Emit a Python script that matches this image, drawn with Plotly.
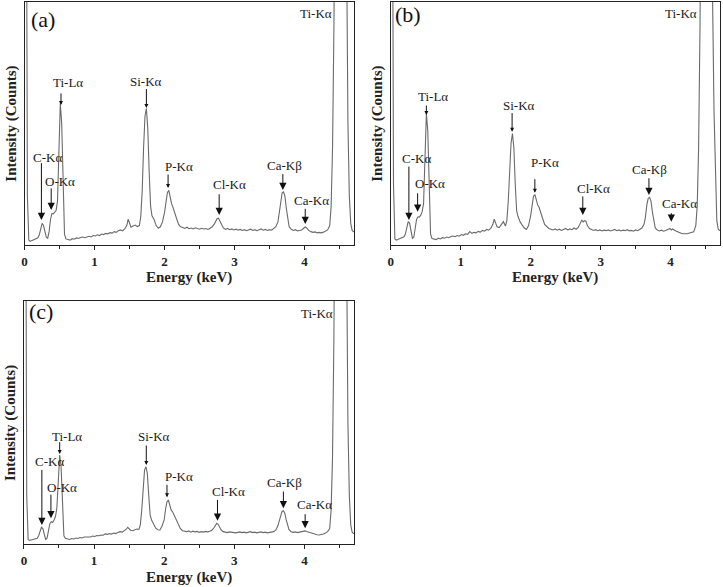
import plotly.graph_objects as go

# ---------------- data ----------------
energy = [
    0.00, 0.02, 0.04, 0.06, 0.08, 0.10, 0.13, 0.16, 0.19, 0.21,
    0.23, 0.25, 0.27, 0.29, 0.31, 0.33, 0.35, 0.37, 0.39, 0.41,
    0.43, 0.45, 0.47, 0.49, 0.51, 0.53, 0.55, 0.57, 0.59, 0.62,
    0.65, 0.68, 0.71, 0.74, 0.77, 0.80, 0.83, 0.86, 0.89, 0.92,
    0.95, 0.98, 1.01, 1.04, 1.07, 1.10, 1.13, 1.16, 1.19, 1.22,
    1.25, 1.28, 1.31, 1.34, 1.37, 1.40, 1.43, 1.46, 1.48, 1.50,
    1.52, 1.55, 1.58, 1.61, 1.64, 1.66, 1.68, 1.70, 1.72, 1.74,
    1.76, 1.78, 1.80, 1.82, 1.85, 1.88, 1.91, 1.94, 1.97, 2.00,
    2.02, 2.04, 2.06, 2.08, 2.10, 2.12, 2.14, 2.17, 2.20, 2.23,
    2.26, 2.29, 2.32, 2.35, 2.38, 2.41, 2.44, 2.47, 2.50, 2.53,
    2.56, 2.59, 2.62, 2.65, 2.68, 2.71, 2.73, 2.75, 2.77, 2.79,
    2.81, 2.84, 2.87, 2.90, 2.93, 2.96, 2.99, 3.02, 3.05, 3.08,
    3.11, 3.14, 3.17, 3.20, 3.23, 3.26, 3.29, 3.32, 3.35, 3.38,
    3.41, 3.44, 3.47, 3.50, 3.53, 3.56, 3.59, 3.62, 3.64, 3.66,
    3.68, 3.70, 3.72, 3.74, 3.76, 3.78, 3.81, 3.84, 3.87, 3.90,
    3.93, 3.96, 3.99, 4.01, 4.03, 4.06, 4.09, 4.12, 4.15, 4.18,
    4.21, 4.24, 4.27, 4.30, 4.33, 4.36, 4.38, 4.40, 4.42, 4.44,
    4.47, 4.51, 4.55, 4.58, 4.60, 4.62, 4.64, 4.66, 4.68, 4.70,
    4.72,
]

counts_a = [
    400, 150, 20, 2.0, 1.5, 1.8, 2.2, 2.4, 3.0, 4.2,
    6.5, 8.9, 8.0, 5.0, 3.2, 2.8, 5.5, 10.5, 13.0, 12.8,
    13.5, 14.2, 18, 38, 58.3, 50, 20, 4.5, 2.5, 2.3,
    2.0, 2.6, 2.4, 2.9, 2.7, 3.1, 3.3, 3.0, 3.4, 3.6,
    3.3, 3.9, 3.7, 4.2, 3.9, 4.5, 4.3, 4.8, 4.6, 5.1,
    4.9, 5.5, 5.2, 5.9, 6.2, 5.8, 6.6, 8.0, 10.6, 8.5,
    7.3, 7.8, 8.2, 7.6, 8.0, 11.7, 22, 40, 53, 56.2,
    48, 30, 16, 12, 10.5, 8.0, 6.9, 7.5, 9.5, 13.5,
    18, 21.5, 22.5, 19.5, 17, 15.5, 14, 11, 8.5, 7.5,
    7.2, 6.8, 7.3, 6.7, 7.0, 6.6, 7.1, 6.8, 6.5, 6.9,
    6.6, 6.8, 6.4, 6.9, 7.5, 8.6, 9.8, 10.8, 11.0, 9.8,
    8.2, 7.0, 6.4, 6.8, 6.3, 6.6, 6.2, 6.5, 6.1, 6.4,
    6.0, 6.3, 5.9, 6.2, 6.5, 6.0, 6.3, 5.9, 6.2, 6.6,
    6.1, 6.4, 6.0, 6.3, 6.1, 6.7, 7.5, 9.5, 13, 18,
    21.5, 21.9, 20, 15, 10, 7.5, 6.5, 6.0, 6.3, 5.8,
    6.0, 6.2, 7.0, 7.4, 7.0, 6.0, 5.5, 5.2, 5.4, 5.0,
    5.2, 5.0, 5.3, 5.6, 6.2, 8, 16, 40, 90, 180,
    400, 700, 400, 200, 100, 50, 20, 9, 6, 5.5,
    5.5,
]

counts_b = [
    400, 150, 25, 2.5, 2.0, 2.3, 2.6, 2.8, 3.4, 4.5,
    7.0, 9.6, 9.0, 5.5, 2.8, 3.2, 6.5, 10.5, 11.6, 11.5,
    12.3, 13.7, 17, 35, 54.1, 47, 20, 4.5, 2.7, 2.3,
    2.2, 2.8, 2.5, 3.0, 2.8, 3.3, 3.0, 3.5, 3.7, 3.4,
    3.9, 3.6, 4.3, 4.0, 4.6, 4.4, 5.5, 4.8, 5.2, 5.0,
    5.6, 5.3, 6.0, 5.7, 6.4, 6.1, 6.8, 8.5, 10.6, 9.0,
    7.5, 7.2, 8.5, 9.6, 7.8, 10, 18, 32, 42, 45.9,
    40, 25, 14, 11.7, 9.5, 8.2, 7.0, 6.4, 8.0, 12,
    16.5, 20, 20.8, 18.5, 16.5, 15.5, 14, 11, 8.5, 7.5,
    6.8, 6.5, 6.2, 6.6, 6.1, 6.5, 6.0, 6.4, 6.8, 6.2,
    6.6, 6.3, 7.0, 6.5, 7.2, 9.0, 10.2, 9.5, 10.0, 9.8,
    8.0, 6.8, 6.4, 6.0, 6.3, 5.9, 6.2, 5.8, 6.1, 5.9,
    6.2, 5.8, 6.1, 6.4, 5.9, 6.2, 5.8, 6.1, 5.9, 6.3,
    5.8, 6.0, 5.7, 6.2, 5.9, 6.4, 7.0, 8.5, 11.5, 16.5,
    19.2, 19.6, 18.0, 13.5, 9.5, 7.0, 6.2, 5.8, 6.1, 5.7,
    6.0, 6.5, 6.8, 6.2, 6.6, 6.0, 5.5, 5.0, 4.8, 4.6,
    4.5, 4.6, 4.9, 5.1, 5.4, 8, 16, 40, 90, 180,
    400, 700, 400, 200, 100, 55, 25, 10, 6.5, 6.0,
    6.0,
]

counts_c = [
    400, 150, 20, 2.0, 1.6, 1.8, 2.0, 2.2, 2.5, 3.5,
    5.0, 7.0, 6.5, 4.0, 2.0, 2.5, 5.5, 8.5, 9.3, 9.0,
    10.0, 11.4, 15, 27, 36.7, 32, 14, 3.5, 2.5, 2.1,
    2.0, 2.4, 2.2, 2.6, 2.4, 2.8, 2.6, 3.0, 2.9, 3.1,
    3.0, 3.4, 3.2, 3.6, 3.5, 3.8, 3.7, 4.3, 4.1, 4.4,
    4.2, 4.6, 4.4, 4.9, 5.2, 5.0, 5.5, 6.2, 7.0, 6.2,
    5.8, 5.6, 5.9, 6.3, 6.1, 8.0, 14, 24, 30.5, 31.9,
    29, 20, 12, 10, 8.5, 6.6, 6.0, 5.9, 7.5, 10,
    14.5, 17.5, 18.2, 16, 14, 13.4, 12, 10.7, 8, 6.5,
    5.6, 5.3, 5.2, 5.5, 5.0, 5.4, 5.1, 5.3, 4.9, 5.2,
    5.0, 5.3, 5.1, 5.4, 5.8, 6.8, 8.0, 8.6, 8.2, 7.0,
    6.0, 5.2, 5.0, 4.8, 5.1, 4.9, 5.0, 4.7, 4.9, 5.1,
    4.8, 5.0, 4.7, 4.9, 5.2, 4.8, 5.0, 4.7, 4.9, 5.1,
    4.8, 5.0, 4.7, 4.9, 4.8, 5.2, 5.8, 7.5, 9.5, 12,
    13.5, 13.8, 12.8, 10, 7.5, 6.0, 5.2, 4.9, 5.1, 4.8,
    5.0, 5.2, 5.4, 5.5, 5.3, 5.0, 4.6, 4.3, 4.1, 3.9,
    3.8, 3.9, 4.2, 4.6, 5.2, 6.5, 14, 35, 85, 180,
    400, 700, 400, 200, 100, 50, 20, 8, 5, 4.5,
    4.5,
]

panel_names = ["(a)", "(b)", "(c)"]
x_tick_values = [0, 1, 2, 3, 4]
x_tick_labels = ["0", "1", "2", "3", "4"]
peak_labels = ["C-Kα", "O-Kα", "Ti-Lα", "Si-Kα", "P-Kα", "Cl-Kα", "Ca-Kβ", "Ca-Kα"]
# energy of the peak each arrow points at, per panel
peak_energy_a = [0.24, 0.38, 0.52, 1.74, 2.05, 2.78, 3.69, 4.01]
peak_energy_b = [0.26, 0.385, 0.51, 1.735, 2.06, 2.745, 3.69, 4.01]
peak_energy_c = [0.256, 0.385, 0.51, 1.745, 2.04, 2.76, 3.70, 4.01]

assert len(energy) == len(counts_a) == len(counts_b) == len(counts_c)

# ---------------- layout (positions / styles) ----------------
SERIF = "Liberation Serif, Times New Roman, Times, DejaVu Serif, serif"
LINE_COLOR = "#6a6a6a"
FRAME = "#222222"

# arrow geometry per panel: (tip y, tail y)
arrow_geo = {
    "a": [(10.3, 34.3), (14.4, 23.9), (57.6, 63.0), (56.4, 64.8), (23.5, 29.6), (12.3, 21.5), (22.6, 29.8), (8.6, 15.5)],
    "b": [(10.3, 32.9), (13.7, 21.9), (53.5, 58.0), (46.6, 54.9), (21.5, 27.7), (12.3, 20.6), (20.6, 28.1), (9.6, 13.7)],
    "c": [(7.9, 31.2), (10.7, 21.0), (37.1, 42.6), (32.6, 41.2), (19.3, 25.1), (9.7, 18.9), (14.8, 22.3), (6.6, 13.0)],
}
label_pos = {
    "a": [(0.33, 36.2), (0.51, 26.2), (0.62, 66.8), (1.74, 67.2), (2.20, 32.2), (2.93, 24.7), (3.72, 32.9), (4.10, 18.5)],
    "b": [(0.37, 35.7), (0.56, 25.4), (0.61, 61.3), (1.84, 57.6), (2.20, 33.9), (2.90, 23.3), (3.70, 30.9), (4.13, 17.2)],
    "c": [(0.36, 34.0), (0.54, 23.4), (0.62, 44.2), (1.85, 44.2), (2.21, 27.8), (2.92, 21.6), (3.72, 25.3), (4.15, 16.2)],
}
big_head = [True, True, False, False, False, True, True, True]
tika_pos = {"a": (4.17, 95.3), "b": (4.15, 95.3), "c": (4.18, 94.9)}
panel_label_pos = {"a": (0.26, 92.6), "b": (0.25, 94.7), "c": (0.24, 95.6)}

W, H = 723, 587
boxes = {  # left, right, top, bottom in pixels
    "a": (21.7, 352.7, 2, 245),
    "b": (389.3, 720.3, 2, 245),
    "c": (21.0, 352.7, 301, 544.3),
}

fig = go.Figure()
series = {"a": (counts_a, peak_energy_a), "b": (counts_b, peak_energy_b), "c": (counts_c, peak_energy_c)}
axis_ids = {"a": ("x", "y"), "b": ("x2", "y2"), "c": ("x3", "y3")}

annotations = []
for i, key in enumerate(["a", "b", "c"]):
    counts, pe = series[key]
    xa, ya = axis_ids[key]
    fig.add_trace(go.Scatter(x=energy, y=counts, mode="lines", xaxis=xa, yaxis=ya,
                             line=dict(color=LINE_COLOR, width=1.1), showlegend=False,
                             hoverinfo="skip"))
    for j, lab in enumerate(peak_labels):
        tip, tail = arrow_geo[key][j]
        big = big_head[j]
        annotations.append(dict(x=pe[j], y=tip, ax=pe[j], ay=tail, xref=xa, yref=ya,
                                axref=xa, ayref=ya, text="", showarrow=True,
                                arrowhead=2, arrowsize=1.45 if big else 0.8,
                                arrowwidth=1, arrowcolor="#111111",
                                standoff=0, startstandoff=0))
        lx, ly = label_pos[key][j]
        annotations.append(dict(x=lx, y=ly, xref=xa, yref=ya, text=lab, showarrow=False,
                                font=dict(family=SERIF, size=13, color="#1a1a1a"),
                                xanchor="center", yanchor="middle"))
    tx, ty = tika_pos[key]
    annotations.append(dict(x=tx, y=ty, xref=xa, yref=ya, text="Ti-Kα", showarrow=False,
                            font=dict(family=SERIF, size=13, color="#1a1a1a"),
                            xanchor="center", yanchor="middle"))
    px_, py_ = panel_label_pos[key]
    annotations.append(dict(x=px_, y=py_, xref=xa, yref=ya, text=panel_names[i], showarrow=False,
                            font=dict(family=SERIF, size=22, color="#111111"),
                            xanchor="center", yanchor="middle"))
    l, r, t, b = boxes[key]
    # axis titles
    annotations.append(dict(x=(l + r) / 2 / W, y=1 - (b + 33) / H, xref="paper", yref="paper",
                            text="<b>Energy (keV)</b>", showarrow=False,
                            font=dict(family=SERIF, size=15, color="#222222"),
                            xanchor="center", yanchor="middle"))
    annotations.append(dict(x=(l - 13.5) / W, y=1 - (t + b) / 2 / H, xref="paper", yref="paper",
                            text="<b>Intensity (Counts)</b>", showarrow=False, textangle=-90,
                            font=dict(family=SERIF, size=15, color="#222222"),
                            xanchor="center", yanchor="middle"))

xcommon = dict(range=[0, 4.71], tickvals=x_tick_values, ticktext=x_tick_labels,
               ticks="outside", ticklen=4, tickwidth=1, tickcolor=FRAME,
               showline=True, linecolor=FRAME, linewidth=1, mirror=True,
               showgrid=False, zeroline=False,
               tickfont=dict(family=SERIF, size=13, color="#222222", weight="bold"),
               minor=dict(tickvals=[0.5, 1.5, 2.5, 3.5, 4.5], ticks="outside", ticklen=2.5,
                          tickcolor=FRAME, showgrid=False))
ycommon = dict(range=[0, 100], showticklabels=False, ticks="", showline=True,
               linecolor=FRAME, linewidth=1, mirror=True, showgrid=False, zeroline=False)

layout_axes = {}
for key in ["a", "b", "c"]:
    l, r, t, b = boxes[key]
    xa, ya = axis_ids[key]
    xname = "xaxis" + xa[1:]
    yname = "yaxis" + ya[1:]
    layout_axes[xname] = dict(xcommon, domain=[l / W, r / W], anchor=ya)
    layout_axes[yname] = dict(ycommon, domain=[1 - b / H, 1 - t / H], anchor=xa)

fig.update_layout(width=W, height=H, margin=dict(l=0, r=0, t=0, b=0),
                  paper_bgcolor="white", plot_bgcolor="white",
                  font=dict(family=SERIF),
                  annotations=annotations, **layout_axes)

fig.write_html("out.html")
